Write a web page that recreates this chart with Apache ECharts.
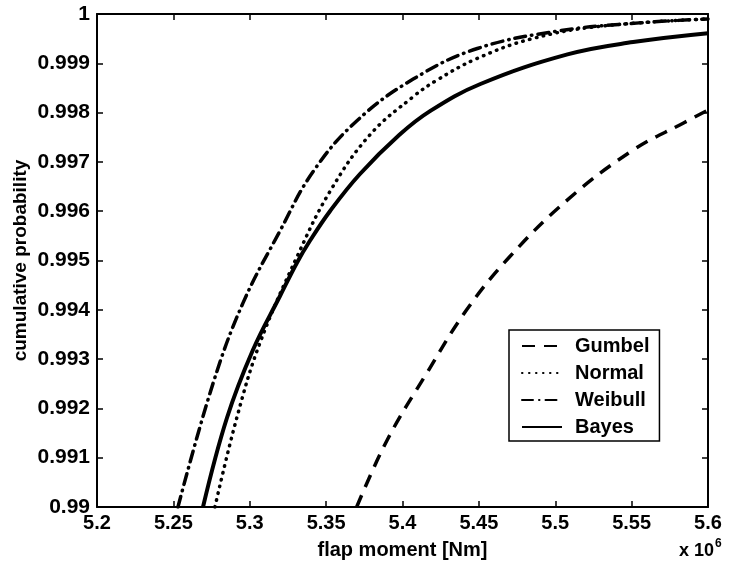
<!DOCTYPE html>
<html>
<head>
<meta charset="utf-8">
<script src="https://cdn.jsdelivr.net/npm/echarts@6/dist/echarts.min.js"></script>
<style>
html,body{margin:0;padding:0;background:#fff;}
#chart{width:732px;height:578px;}
</style>
</head>
<body>
<div id="chart"></div>
<script>
// flap moment in units of 1e6 Nm
const gumbelX  = [5.370, 5.390, 5.416, 5.442, 5.470, 5.508, 5.551, 5.584, 5.600];
const gumbelY  = [0.9900, 0.99136, 0.99272, 0.99400, 0.99507, 0.99623, 0.99724, 0.99779, 0.99805];
const normalX  = [5.2772, 5.2917, 5.3067, 5.331, 5.3525, 5.3787, 5.4069, 5.4226, 5.449, 5.485, 5.529, 5.600];
const normalY  = [0.9900, 0.99183, 0.99333, 0.99508, 0.99640, 0.99755, 0.99832, 0.99866, 0.99910, 0.99950, 0.99975, 0.99990];
const weibullX = [5.253, 5.276, 5.2956, 5.3198, 5.3414, 5.370, 5.407, 5.449, 5.503, 5.555, 5.600];
const weibullY = [0.9900, 0.99251, 0.99414, 0.99560, 0.99680, 0.99783, 0.99868, 0.99930, 0.99966, 0.99982, 0.99990];
const bayesX   = [5.2694, 5.285, 5.302, 5.3198, 5.331, 5.3394, 5.3525, 5.372, 5.398, 5.418, 5.451, 5.508, 5.551, 5.600];
const bayesY   = [0.9900, 0.99180, 0.99318, 0.99428, 0.99496, 0.99540, 0.99600, 0.99675, 0.99755, 0.99803, 0.99858, 0.99918, 0.99943, 0.99961];

const xTicks = ['5.2','5.25','5.3','5.35','5.4','5.45','5.5','5.55','5.6'];
const yTicks = ['0.99','0.991','0.992','0.993','0.994','0.995','0.996','0.997','0.998','0.999','1'];

const zip = (xs, ys) => xs.map((x, i) => [x, ys[i]]);

const FONT = 'Liberation Sans, Arial, sans-serif';
const W = 'bold';
const chart = echarts.init(document.getElementById('chart'), null, {renderer: 'canvas'});

const axisLine = {show: true, lineStyle: {color: '#000', width: 2}};
const axisTick = {show: true, inside: true, length: 6, lineStyle: {color: '#000', width: 1.5}};

chart.setOption({
  animation: false,
  backgroundColor: '#fff',
  color: ['#000', '#000', '#000', '#000'],
  grid: {left: 97, right: 24, top: 14, bottom: 71, containLabel: false, outerBoundsMode: 'none'},
  legend: {
    orient: 'vertical',
    left: 509, top: 330,
    backgroundColor: '#fff',
    borderColor: '#000', borderWidth: 1.5, borderRadius: 0,
    padding: [6, 10, 4, 12],
    itemGap: 7,
    itemWidth: 40, itemHeight: 20,
    itemStyle: {opacity: 0},
    textStyle: {fontFamily: FONT, fontSize: 20, fontWeight: W, color: '#000', padding: [0, 0, 0, 8]},
    data: ['Gumbel', 'Normal', 'Weibull', 'Bayes']
  },
  xAxis: [{
    type: 'value', min: 5.2, max: 5.6, interval: 0.05, position: 'bottom',
    name: 'flap moment [Nm]', nameLocation: 'middle', nameGap: 33,
    nameTextStyle: {fontFamily: FONT, fontSize: 20, fontWeight: W, color: '#000'},
    axisLine, axisTick, splitLine: {show: false},
    axisLabel: {fontFamily: FONT, fontSize: 20, fontWeight: W, color: '#000', margin: 6,
      formatter: v => xTicks[Math.round((v - 5.2) / 0.05)]}
  }, {
    type: 'value', min: 5.2, max: 5.6, interval: 0.05, position: 'top',
    axisLine, axisTick, splitLine: {show: false}, axisLabel: {show: false}
  }],
  yAxis: [{
    type: 'value', min: 0.99, max: 1, interval: 0.001, position: 'left',
    name: 'cumulative probability', nameLocation: 'middle', nameGap: 67, nameMoveOverlap: false,
    nameTextStyle: {fontFamily: FONT, fontSize: 19, fontWeight: W, color: '#000'},
    axisLine, axisTick, splitLine: {show: false},
    axisLabel: {fontFamily: FONT, fontSize: 21, fontWeight: W, color: '#000', margin: 7,
      formatter: v => yTicks[Math.round((v - 0.99) / 0.001)]}
  }, {
    type: 'value', min: 0.99, max: 1, interval: 0.001, position: 'right',
    axisLine, axisTick, splitLine: {show: false}, axisLabel: {show: false}
  }],
  graphic: [{
    type: 'text', left: 679, top: 538,
    style: {
      text: '{b|x 10}{s|6}',
      rich: {
        b: {fontFamily: FONT, fontSize: 18, fontWeight: W, fill: '#000', padding: [9, 0, 0, 0]},
        s: {fontFamily: FONT, fontSize: 12, fontWeight: W, fill: '#000', padding: [0, 0, 6, 1]}
      }
    }
  }],
  series: [
    {name: 'Gumbel', type: 'line', smooth: 0.4, symbol: 'none', data: zip(gumbelX, gumbelY),
      itemStyle: {color: '#000'},
      lineStyle: {color: '#000', width: 3.5, type: [13, 9]}},
    {name: 'Normal', type: 'line', smooth: 0.4, symbol: 'none', data: zip(normalX, normalY),
      itemStyle: {color: '#000'},
      lineStyle: {color: '#000', width: 3.5, type: [0.5, 6.5], cap: 'round'}},
    {name: 'Weibull', type: 'line', smooth: 0.4, symbol: 'none', data: zip(weibullX, weibullY),
      itemStyle: {color: '#000'},
      lineStyle: {color: '#000', width: 3.5, type: [11, 6, 0.5, 6], cap: 'round'}},
    {name: 'Bayes', type: 'line', smooth: 0.4, symbol: 'none', data: zip(bayesX, bayesY),
      itemStyle: {color: '#000'},
      lineStyle: {color: '#000', width: 4}}
  ]
});
</script>
</body>
</html>
